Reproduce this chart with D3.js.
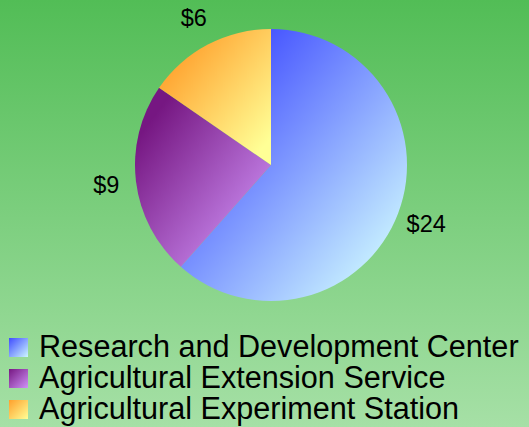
<!DOCTYPE html>
<html>
<head>
<meta charset="utf-8">
<script src="https://cdn.jsdelivr.net/npm/d3@7"></script>
<style>
  html, body { margin: 0; padding: 0; overflow: hidden; }
  svg { display: block; }
  text { font-family: "Liberation Sans", Arial, sans-serif; fill: #000; }
</style>
</head>
<body>
<svg id="chart" width="529" height="427"></svg>
<script>
// data
var categories = ["Research and Development Center", "Agricultural Extension Service", "Agricultural Experiment Station"];
var values = [24, 9, 6];
var labels = ["$24", "$9", "$6"];
var colorFrom = ["#3f4cff", "#761782", "#ffa02c"];
var colorTo = ["#cdf7ff", "#cf92f7", "#ffff96"];

var width = 529, height = 427;
var cx = 271, cy = 165, radius = 136;

var svg = d3.select("#chart");
var defs = svg.append("defs");

// background
var bg = defs.append("linearGradient")
  .attr("id", "bg")
  .attr("x1", 0).attr("y1", 0).attr("x2", 0).attr("y2", 1);
bg.append("stop").attr("offset", "0%").attr("stop-color", "#52bd56");
bg.append("stop").attr("offset", "100%").attr("stop-color", "#a6e0a6");
svg.append("rect").attr("width", width).attr("height", height).attr("fill", "url(#bg)");

// slice gradients, top-left dark -> bottom-right light
categories.forEach(function (c, i) {
  var g = defs.append("linearGradient")
    .attr("id", "g" + i)
    .attr("x1", 0).attr("y1", 0).attr("x2", 1).attr("y2", 1);
  g.append("stop").attr("offset", "15%").attr("stop-color", colorFrom[i]);
  g.append("stop").attr("offset", "90%").attr("stop-color", colorTo[i]);
  // legend boxes use the full range
  var k = defs.append("linearGradient")
    .attr("id", "k" + i)
    .attr("x1", 0).attr("y1", 0).attr("x2", 1).attr("y2", 1);
  k.append("stop").attr("offset", "0%").attr("stop-color", colorFrom[i]);
  k.append("stop").attr("offset", "100%").attr("stop-color", colorTo[i]);
});

var pie = d3.pie().sort(null).value(function (d) { return d; });
var arcs = pie(values);
var arc = d3.arc().innerRadius(0).outerRadius(radius);
var labelArc = d3.arc().innerRadius(166).outerRadius(166);

var gPie = svg.append("g").attr("transform", "translate(" + cx + "," + cy + ")");

gPie.selectAll("path.slice")
  .data(arcs)
  .enter()
  .append("path")
  .attr("class", "slice")
  .attr("d", arc)
  .attr("fill", function (d, i) { return "url(#g" + i + ")"; });

gPie.selectAll("text.lbl")
  .data(arcs)
  .enter()
  .append("text")
  .attr("class", "lbl")
  .attr("transform", function (d) {
    var p = labelArc.centroid(d);
    return "translate(" + p[0] + "," + p[1] + ")";
  })
  .attr("text-anchor", "middle")
  .attr("dy", "0.36em")
  .style("font-size", "23.5px")
  .text(function (d, i) { return labels[i]; });

// legend
var legend = svg.append("g").attr("transform", "translate(9,338)");
var rows = legend.selectAll("g.row")
  .data(categories)
  .enter()
  .append("g")
  .attr("class", "row")
  .attr("transform", function (d, i) { return "translate(0," + (i * 31) + ")"; });

rows.append("rect")
  .attr("width", 19)
  .attr("height", 19)
  .attr("fill", function (d, i) { return "url(#k" + i + ")"; });

rows.append("text")
  .attr("x", 30)
  .attr("y", 19)
  .style("font-size", "30.6px")
  .text(function (d) { return d; });
</script>
</body>
</html>
